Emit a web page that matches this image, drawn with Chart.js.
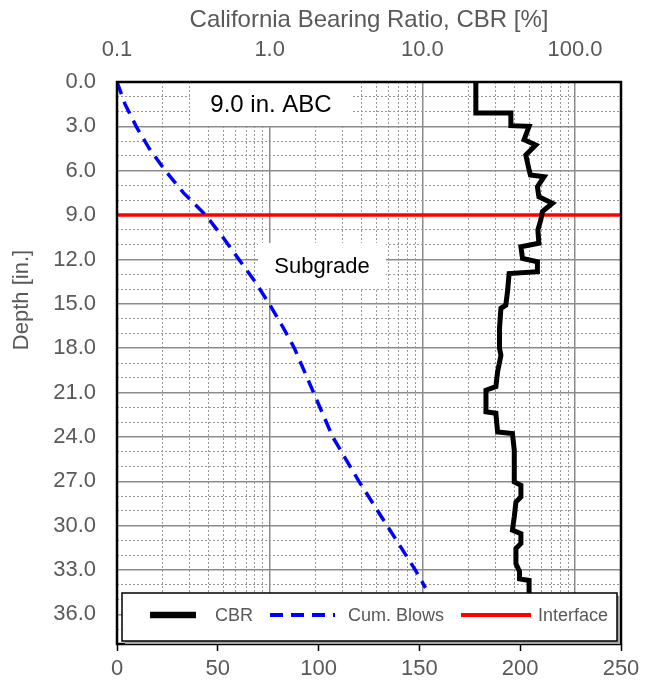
<!DOCTYPE html>
<html>
<head>
<meta charset="utf-8">
<script src="https://cdn.jsdelivr.net/npm/chart.js@4.4.0/dist/chart.umd.min.js"></script>
<style>
  html, body { margin: 0; padding: 0; background: #fff; }
</style>
</head>
<body>
<canvas id="myChart" width="651" height="688"></canvas>
<script>
// CBR profile (depth in inches, CBR in %)
const cbrDepth = [0, 2.1, 2.1, 2.95, 3.0, 3.9, 4.26, 4.94, 5.95, 6.29, 6.4, 7.08, 7.76, 8.2, 8.77, 9.34, 10.0,
  10.9, 11.14, 11.93, 12.16, 12.83, 12.95, 14.19, 15.09, 15.3, 16.67, 18.0, 18.47, 19.6, 20.6, 20.84, 22.3,
  22.4, 23.66, 23.77, 24.9, 27.04, 27.27, 28.06, 28.4, 29.4, 30.3, 30.54, 31.2, 31.55, 32.57, 33.1, 33.6,
  33.7, 34.5, 35.5];
const cbrValue = [22.4, 22.4, 38, 38, 50, 46.4, 55.3, 47.6, 50, 51, 62.7, 56.7, 58, 71.1, 61.1, 59.6, 57.1,
  58, 44.2, 45.3, 56.7, 56.7, 37.0, 36.1, 35.2, 32.7, 32.0, 32.0, 32.7, 31.1, 30.3, 26.1, 26.1,
  30.3, 31.1, 38.9, 40, 40, 44.2, 44.2, 41, 40, 38.9, 44.2, 44.2, 41, 41, 43.3, 43.3,
  50, 50, 50];

// cumulative blows vs depth
const blowDepth = [0, 1.5, 3, 4.5, 6, 7.5, 9, 10.5, 12, 13.5, 15, 16.5, 18, 21, 24, 27, 30, 33, 34.2];
const blowCount = [0, 4, 9.5, 16, 24, 33, 44, 52.5, 60.5, 68.5, 75.5, 82, 88, 97.5, 107, 120, 134, 148, 153];

const interfaceDepth = 9.0;

const cbrTicks = [0.1, 1, 10, 100];
const cbrMinorTicks = [0.2, 0.3, 0.4, 0.5, 0.6, 0.7, 0.8, 0.9, 2, 3, 4, 5, 6, 7, 8, 9,
  20, 30, 40, 50, 60, 70, 80, 90];
const depthTicks = [0, 3, 6, 9, 12, 15, 18, 21, 24, 27, 30, 33, 36];
const depthMinorTicks = [1, 2, 4, 5, 7, 8, 10, 11, 13, 14, 16, 17, 19, 20, 22, 23, 25, 26,
  28, 29, 31, 32, 34, 35, 37];
const blowTicks = [0, 50, 100, 150, 200, 250];

const labelColor = '#595959';
const family = 'Liberation Sans, Arial, sans-serif';
const font = { family: family, size: 22 };
const gridGray = '#8c8c8c';

const setTicks = list => scale => { scale.ticks = list.map(v => ({ value: v })); };

// white annotation boxes, plot frame, y title and the in-plot legend
const overlays = {
  id: 'overlays',
  beforeDatasetsDraw(chart) {
    const ctx = chart.ctx;
    const boxes = [
      { text: '9.0 in. ABC', l: 190, t: 83, r: 352, b: 126, size: 24 },
      { text: 'Subgrade', l: 258, t: 243, r: 386, b: 288, size: 22 }
    ];
    ctx.save();
    boxes.forEach(bx => {
      ctx.fillStyle = '#fff';
      ctx.fillRect(bx.l, bx.t, bx.r - bx.l, bx.b - bx.t);
      ctx.fillStyle = '#000';
      ctx.font = bx.size + 'px ' + family;
      ctx.textAlign = 'center';
      ctx.textBaseline = 'middle';
      ctx.fillText(bx.text, (bx.l + bx.r) / 2, (bx.t + bx.b) / 2 + 1);
    });
    ctx.restore();
  },
  afterDatasetsDraw(chart) {
    const ctx = chart.ctx;
    const a = chart.chartArea;
    ctx.save();
    ctx.strokeStyle = '#000';
    ctx.lineWidth = 2.5;
    ctx.strokeRect(a.left, a.top, a.right - a.left, a.bottom - a.top);

    // y axis title, centred where the original puts it
    ctx.save();
    ctx.translate(22, 300);
    ctx.rotate(-Math.PI / 2);
    ctx.fillStyle = labelColor;
    ctx.font = '22px ' + family;
    ctx.textAlign = 'center';
    ctx.textBaseline = 'middle';
    ctx.fillText('Depth [in.]', 0, 0);
    ctx.restore();

    // legend box with a little shadow
    const L = 122, T = 593, R = 617, B = 641;
    ctx.fillStyle = '#a6a6a6';
    ctx.fillRect(L + 3, T + 3, R - L, B - T);
    ctx.fillStyle = '#fff';
    ctx.fillRect(L, T, R - L, B - T);
    ctx.lineWidth = 1.5;
    ctx.strokeRect(L, T, R - L, B - T);

    const ds = chart.data.datasets;
    const items = [
      { d: ds[0], x0: 150, x1: 196, tx: 215, w: 6.5 },
      { d: ds[1], x0: 270, x1: 335, tx: 348, w: 4 },
      { d: ds[2], x0: 461, x1: 531, tx: 538, w: 4 }
    ];
    const cy = 615;
    items.forEach(it => {
      ctx.beginPath();
      ctx.setLineDash(it.d.borderDash || []);
      ctx.strokeStyle = it.d.borderColor;
      ctx.lineWidth = it.w;
      ctx.moveTo(it.x0, cy);
      ctx.lineTo(it.x1, cy);
      ctx.stroke();
      ctx.setLineDash([]);
      ctx.fillStyle = labelColor;
      ctx.font = '18px ' + family;
      ctx.textAlign = 'left';
      ctx.textBaseline = 'middle';
      ctx.fillText(it.d.label, it.tx, cy + 1);
    });
    ctx.restore();
  }
};

new Chart("myChart", {
  type: "scatter",
  data: {
    datasets: [
      {
        label: "CBR",
        data: cbrDepth.map((d, i) => ({ x: cbrValue[i], y: d })),
        xAxisID: 'x', yAxisID: 'y',
        showLine: true, borderColor: '#000', borderWidth: 5, pointRadius: 0,
        borderJoinStyle: 'miter'
      },
      {
        label: "Cum. Blows",
        data: blowDepth.map((d, i) => ({ x: blowCount[i], y: d })),
        xAxisID: 'x2', yAxisID: 'y',
        showLine: true, borderColor: '#0000ff', borderWidth: 3.5, borderDash: [13, 8],
        pointRadius: 0
      },
      {
        label: "Interface",
        data: [{ x: 0.1, y: interfaceDepth }, { x: 200, y: interfaceDepth }],
        xAxisID: 'x', yAxisID: 'y',
        showLine: true, borderColor: '#ff0000', borderWidth: 3.5, pointRadius: 0
      }
    ]
  },
  options: {
    responsive: false,
    animation: false,
    layout: { padding: { left: 0, right: 30, top: 0, bottom: 0 } },
    plugins: { legend: { display: false }, tooltip: { enabled: false } },
    scales: {
      x: {
        type: 'logarithmic', position: 'top', min: 0.1, max: 200,
        afterBuildTicks: setTicks(cbrTicks),
        afterFit: s => { s.height = 82; },
        ticks: { callback: v => Number(v).toFixed(1), color: labelColor, font: font, padding: 19,
          autoSkip: false, maxRotation: 0 },
        grid: { color: gridGray, lineWidth: 1.5, drawTicks: false },
        border: { display: false },
        title: { display: true, text: 'California Bearing Ratio, CBR [%]', color: labelColor,
          font: { family: family, size: 24 }, padding: { top: 6, bottom: 0 } }
      },
      xm: {
        type: 'logarithmic', position: 'top', min: 0.1, max: 200,
        afterBuildTicks: setTicks(cbrMinorTicks),
        ticks: { display: false },
        grid: { color: '#999', lineWidth: 1, drawTicks: false },
        border: { display: false, dash: [2, 2] }
      },
      x2: {
        type: 'linear', position: 'bottom', min: 0, max: 250,
        afterBuildTicks: setTicks(blowTicks),
        afterFit: s => { s.height = 44; },
        ticks: { color: labelColor, font: font, padding: 5, maxRotation: 0 },
        grid: { drawOnChartArea: false, tickLength: 7, tickColor: '#000', tickWidth: 1.5 },
        border: { display: false }
      },
      y: {
        type: 'linear', position: 'left', reverse: true, min: 0, max: 38,
        afterBuildTicks: setTicks(depthTicks),
        afterFit: s => { s.width = 117; },
        ticks: { callback: v => Number(v).toFixed(1), color: labelColor, font: font, padding: 21 },
        grid: { color: gridGray, lineWidth: 1.5, drawTicks: false },
        border: { display: false }
      },
      ym: {
        type: 'linear', position: 'left', reverse: true, min: 0, max: 38,
        afterBuildTicks: setTicks(depthMinorTicks),
        ticks: { display: false },
        grid: { color: '#999', lineWidth: 1, drawTicks: false },
        border: { display: false, dash: [2, 2] }
      }
    }
  },
  plugins: [overlays]
});
</script>
</body>
</html>
